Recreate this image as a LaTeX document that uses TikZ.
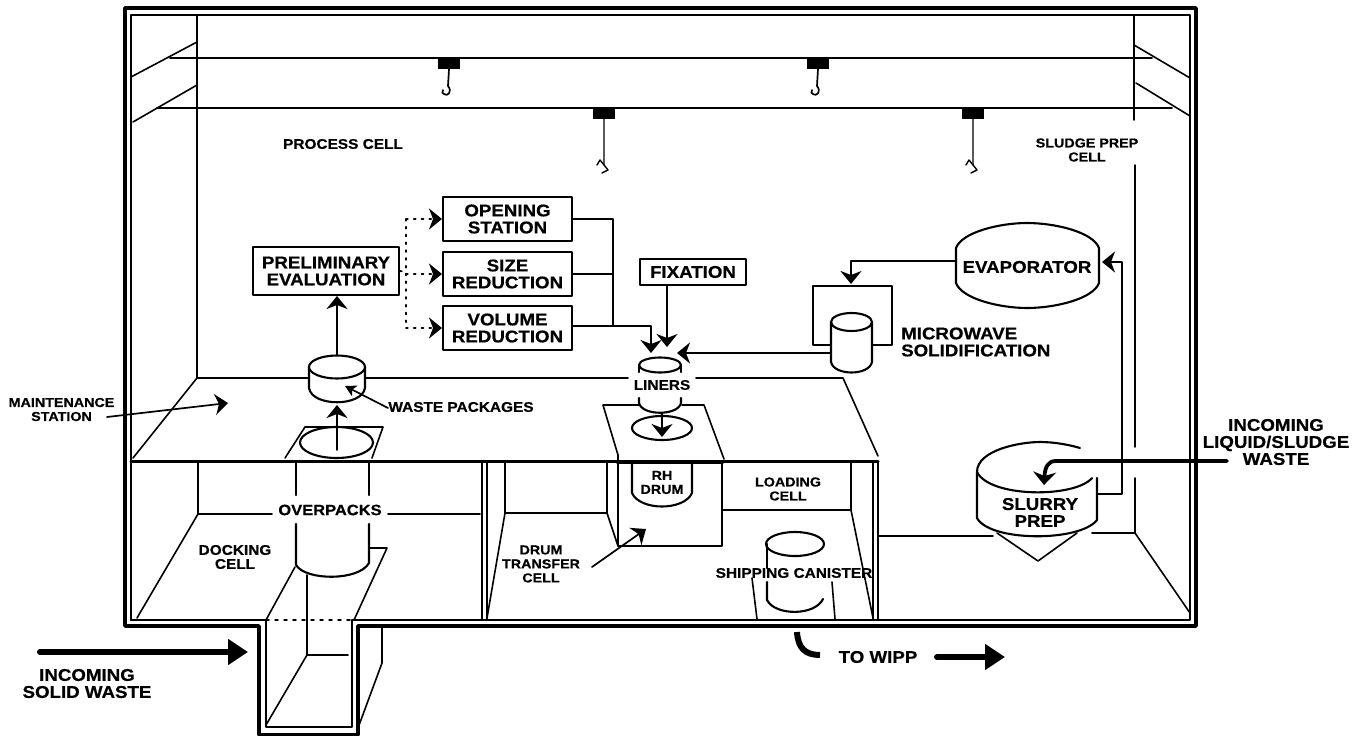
\documentclass[tikz,border=0pt]{standalone}
\usepackage{fontspec}
\setmainfont[FakeStretch=1.1, BoldFeatures={FakeBold=0.5}]{Liberation Sans}
\usepackage{tikz}
\usetikzlibrary{arrows.meta, positioning, calc}
\tikzset{
    boxlabel/.style={font=\bfseries\fontsize{17}{17}\selectfont, align=center, inner sep=0pt},
    celllabel/.style={font=\bfseries\fontsize{14}{14}\selectfont, align=center, inner sep=0pt},
    smalllabel/.style={font=\bfseries\fontsize{13}{14}\selectfont, align=center, inner sep=0pt},
    stationbox/.style={draw, line width=2pt, inner sep=0pt, minimum width=129pt, minimum height=44pt, boxlabel},
    wall/.style={line width=1.6pt},
    vessel/.style={line width=2.1pt},
    flow/.style={line width=1.7pt, -{Stealth[length=13pt, width=21pt, inset=4pt]}},
    dotflow/.style={line width=1.8pt, dash pattern=on 1.8pt off 6pt, -{Stealth[length=13pt, width=21pt, inset=4pt]}},
    bigflow/.style={line width=6pt, -{Triangle[length=20pt, width=25pt]}},
}
\begin{document}
\begin{tikzpicture}[x=1pt, y=-1pt, line cap=round, line join=round]
    \useasboundingbox (0,0) rectangle (1366,736);

    % Building outline
    \draw[line width=3.6pt] (125,626) -- (125,8) -- (1196,8) -- (1196,626) -- (358,626) -- (358,735) -- (259,735) -- (259,626) -- cycle;
    \draw[line width=2pt] (131,620) -- (131,15) -- (1190,15) -- (1190,620) -- (352,620);
    \draw[line width=2pt] (131,620) -- (266,620) -- (266,727) -- (352,727) -- (352,620);

    % Crane rails and end walls
    \draw[wall] (170,58) -- (1152,58);
    \draw[wall] (157,108) -- (1172,108);
    \draw[wall] (131,77) -- (197,42);
    \draw[wall] (133,122) -- (197,85);
    \draw[wall] (1134,45) -- (1190,78);
    \draw[wall] (1136,83) -- (1190,116);
    \draw[wall] (197,15) -- (197,378);
    \draw[wall] (1134,15) -- (1134,120);
    \draw[wall] (1135,165) -- (1135,447);
    \draw[wall] (1135,478) -- (1135,533) -- (1190,613);

    % Hoists
    \fill (438,58) rectangle (460,69);
    \draw[line width=1.7pt] (449,69) -- (448,86) .. controls (453,92) and (447,97) .. (444,94) .. controls (442,93) .. (443,90);
    \fill (807,58) rectangle (829,69);
    \draw[line width=1.7pt] (818,69) -- (817,86) .. controls (822,92) and (816,97) .. (813,94) .. controls (811,93) .. (812,90);
    \fill (593,108) rectangle (615,119);
    \draw[line width=1.4pt] (604,119) -- (604,165) -- (608,170) -- (602,173);
    \draw[line width=1.4pt] (597,165) -- (600,160) -- (604,165);
    \fill (962,108) rectangle (984,119);
    \draw[line width=1.4pt] (973,119) -- (973,165) -- (977,170) -- (971,173);
    \draw[line width=1.4pt] (966,165) -- (969,160) -- (973,165);

    % Process cell floor
    \draw[wall] (133,458) -- (197,378) -- (628,378);
    \draw[wall] (696,378) -- (843,378) -- (878,456);
    \draw[line width=3pt] (131,461) -- (878,461);
    \draw[line width=4.5pt] (618,462) -- (722,462);

    % Docking cell
    \draw[wall] (198,462) -- (198,514) -- (272,514);
    \draw[wall] (388,514) -- (480,514);
    \draw[wall] (198,514) -- (137,618);

    % Drum transfer cell
    \draw[wall] (482,462) -- (482,620);
    \draw[wall] (487,462) -- (487,620);
    \draw[wall] (505,462) -- (505,513) -- (487,618);
    \draw[wall] (505,513) -- (607,513) -- (618,546);
    \draw[wall] (607,462) -- (607,513);
    \draw[wall] (618,455) -- (618,546) -- (722,546) -- (722,462);

    % Loading cell
    \draw[wall] (722,510) -- (851,510) -- (873,618);
    \draw[wall] (851,462) -- (851,510);
    \draw[wall] (873,462) -- (873,620);
    \draw[wall] (878,462) -- (878,620);
    \draw[wall] (752,578) -- (757,619);
    \draw[wall] (832,582) -- (835,619);

    % Sludge prep floor
    \draw[wall] (878,536) -- (993,536);
    \draw[wall] (1092,533) -- (1135,533);

    % Pit below the docking cell
    \draw[wall] (266,620) -- (295,567);
    \draw[wall] (354,620) -- (387,548) -- (370,548);
    \draw[line width=1.5pt, dash pattern=on 3pt off 6pt] (266,620) -- (352,620);
    \draw[wall] (307,575) -- (307,655) -- (348,655);
    \draw[wall] (307,655) -- (266,725);
    \draw[wall] (382,627) -- (382,663) -- (358,728);

    % Overpack and port
    \draw[wall] (285,458) -- (305,427) -- (383,427) -- (372,458);
    \draw[vessel, fill=white] (336.5,442.5) ellipse [x radius=36.5, y radius=15.5];
    \draw[vessel] (296,462) -- (296,495);
    \draw[vessel] (369,462) -- (369,495);
    \draw[vessel] (296,524) -- (296,565) .. controls (306,581) and (359,581) .. (369,563) -- (369,524);

    % Waste package
    \draw[vessel, fill=white] (309,367) -- (309,388) .. controls (312,407) and (362,407) .. (365,388) -- (365,367);
    \draw[vessel, fill=white] (337,367) ellipse [x radius=28, y radius=11.5];

    % Liner
    \draw[wall] (618,455) -- (603,405) -- (640,405);
    \draw[wall] (682,405) -- (704,405) -- (724,459);
    \draw[vessel] (660,365) ellipse [x radius=21, y radius=7.5];
    \draw[vessel] (639,365) -- (639,372);
    \draw[vessel] (681,365) -- (681,372);
    \draw[vessel] (639,398) -- (639,403) .. controls (642,416) and (678,416) .. (681,403) -- (681,398);
    \draw[vessel] (662,428) ellipse [x radius=30, y radius=12];

    % Drums and canister
    \draw[vessel] (632,463) -- (632,493) .. controls (640,511) and (684,511) .. (692,493) -- (692,463);
    \draw[vessel] (795,544) ellipse [x radius=29, y radius=12];
    \draw[vessel] (767,544) -- (767,568);
    \draw[vessel] (767,582) -- (767,600) .. controls (775,616) and (815,616) .. (823,599);

    % Slurry tank
    \draw[vessel] (977,472) .. controls (977,450) and (1020,442) .. (1040,442) .. controls (1055,442) and (1070,445) .. (1080,448);
    \draw[vessel] (977,472) .. controls (990,498) and (1075,498) .. (1092,478);
    \draw[vessel] (977,472) -- (977,518) .. controls (990,542) and (1080,542) .. (1097,520) -- (1097,478);
    \draw[wall] (997,533) -- (1038,561) -- (1077,533);

    % Evaporator and microwave
    \draw[vessel] (956,248) .. controls (962,232) and (1000,223) .. (1027,223) .. controls (1055,223) and (1093,232) .. (1099,248) -- (1099,283) .. controls (1093,299) and (1055,308) .. (1027,308) .. controls (1000,308) and (962,299) .. (956,283) -- cycle;
    \draw[wall] (830,345) -- (813,345) -- (813,286) -- (892,286) -- (892,345) -- (873,345);
    \draw[vessel, fill=white] (831,322) -- (831,362) .. controls (834,376) and (869,376) .. (872,362) -- (872,322);
    \draw[vessel, fill=white] (851.5,322) ellipse [x radius=20.5, y radius=9];

    % Coordinates for the connectors
    \coordinate (PkgTop) at (337,355);
    \coordinate (PkgBottom) at (337,405);
    \coordinate (PortTop) at (337,450);
    \coordinate (DotSplit) at (406,272);
    \coordinate (CollectV) at (613,326);
    \coordinate (LinerL) at (651,353);
    \coordinate (LinerM) at (667,347);
    \coordinate (LinerR) at (677,353);
    \coordinate (LinerOut) at (662,413);
    \coordinate (LinerIn) at (662,437);
    \coordinate (MicroW) at (830,353);
    \coordinate (MicroN) at (851,284);
    \coordinate (EvapW) at (956,261);
    \coordinate (EvapE) at (1102,262);
    \coordinate (SlurryE) at (1097,494);
    \coordinate (SlurryIn) at (1044,485);
    \coordinate (LiquidEnd) at (1227,461);

    % Flow boxes
    \node[stationbox, minimum width=146pt, minimum height=48pt] (evaluation) at (326,271) {PRELIMINARY\\EVALUATION};
    \node[stationbox] (opening) at (507.5,219) {OPENING\\STATION};
    \node[stationbox] (size) at (507.5,274) {SIZE\\REDUCTION};
    \node[stationbox] (volume) at (507.5,328) {VOLUME\\REDUCTION};
    \node[stationbox, minimum width=106pt, minimum height=26pt] (fixation) at (693,272) {FIXATION};

    % Flow connectors
    \draw[flow] (PkgTop) -- (evaluation.south -| PkgTop);
    \draw[flow] (PortTop) -- (PkgBottom);
    \draw[line width=1.8pt, dash pattern=on 1.8pt off 6pt] (evaluation.east) -- (DotSplit);
    \draw[line width=1.8pt, dash pattern=on 1.8pt off 6pt] (opening.west -| DotSplit) -- (volume.west -| DotSplit);
    \draw[dotflow] (DotSplit |- opening.west) -- (opening.west);
    \draw[dotflow] (DotSplit |- size.west) -- (size.west);
    \draw[dotflow] (DotSplit |- volume.west) -- (volume.west);
    \draw[line width=1.7pt] (opening.east) -- (opening.east -| CollectV) -- (CollectV);
    \draw[line width=1.7pt] (size.east) -- (size.east -| CollectV);
    \draw[flow] (volume.east |- CollectV) -- (LinerL |- CollectV) -- (LinerL);
    \draw[flow] (fixation.south -| LinerM) -- (LinerM);
    \draw[flow] (MicroW) -- (LinerR);
    \draw[flow] (LinerOut) -- (LinerIn);
    \draw[flow] (EvapW) -- (MicroN |- EvapW) -- (MicroN);
    \draw[flow] (SlurryE) -- (1122,494) -- (1122,262) -- (EvapE);
    \draw[line width=3.8pt, -{Stealth[length=13pt, width=23pt, inset=4pt]}] (LiquidEnd) -- (1056,461) .. controls (1048,461) and (1045,467) .. (SlurryIn);

    % Waste in and out
    \coordinate (SolidStart) at (40,652);
    \coordinate (SolidEnd) at (248,652);
    \draw[bigflow] (SolidStart) -- (SolidEnd);
    \coordinate (WippTop) at (797,632);
    \coordinate (WippEnd) at (820,655);
    \draw[line width=6pt, line cap=butt] (WippTop) .. controls (798,648) and (805,655) .. (WippEnd);
    \coordinate (WippStart) at (937,657);
    \coordinate (WippTip) at (1005,657);
    \draw[bigflow] (WippStart) -- (WippTip);

    % Pointer arrows
    \coordinate (MaintStart) at (107,417);
    \coordinate (MaintTip) at (228,403);
    \coordinate (PackStart) at (388,408);
    \coordinate (PackTip) at (345,386);
    \coordinate (DrumStart) at (592,567);
    \coordinate (DrumTip) at (646,529);
    \draw[flow] (MaintStart) -- (MaintTip);
    \draw[flow, -{Stealth[length=11pt, width=12pt, inset=3pt]}] (PackStart) -- (PackTip);
    \draw[flow] (DrumStart) -- (DrumTip);

    % Labels
    \node[celllabel] (process) at (343,144) {PROCESS CELL};
    \node[smalllabel] (sludge) at (1087,150) {SLUDGE PREP\\CELL};
    \node[smalllabel] (maintenance) at (61.5,409.5) {MAINTENANCE\\STATION};
    \node[celllabel] (packages) at (461,407) {WASTE PACKAGES};
    \node[celllabel, font=\bfseries\fontsize{15}{15}\selectfont] (overpacks) at (330,510) {OVERPACKS};
    \node[celllabel] (liners) at (662,385) {LINERS};
    \node[celllabel] (docking) at (235,557) {DOCKING\\CELL};
    \node[smalllabel] (transfer) at (541,564) {DRUM\\TRANSFER\\CELL};
    \node[smalllabel] (rhdrum) at (662,482.5) {RH\\DRUM};
    \node[smalllabel] (loading) at (788,489) {LOADING\\CELL};
    \node[celllabel] (canister) at (794,573) {SHIPPING CANISTER};
    \node[boxlabel] (evaporator) at (1027,267) {EVAPORATOR};
    \node[boxlabel, align=left, anchor=west] (microwave) at (901,342) {MICROWAVE\\SOLIDIFICATION};
    \node[boxlabel] (slurry) at (1040,512.5) {SLURRY\\PREP};
    \node[boxlabel] (liquid) at (1276,442) {INCOMING\\LIQUID/SLUDGE\\WASTE};
    \node[boxlabel] (solid) at (87,683.5) {INCOMING\\SOLID WASTE};
    \node[boxlabel] (wipp) at (878,657) {TO WIPP};
\end{tikzpicture}
\end{document}
